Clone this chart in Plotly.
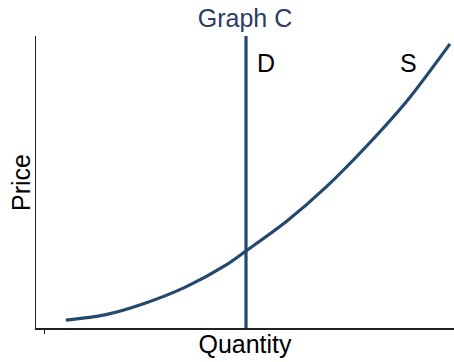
import plotly.graph_objects as go

# supply curve S
supply_q = [0.54, 1.5, 2.5, 3.5, 4.5, 5.0, 6.0, 7.0, 8.0, 9.0, 10.05]
supply_p = [0.27, 0.45, 0.85, 1.40, 2.15, 2.64, 3.65, 4.85, 6.25, 7.80, 9.73]

# vertical demand curve D
demand_q = [5.0, 5.0]
demand_p = [0.0, 10.0]

LINE_COLOR = "#23496f"
FONT = "Liberation Sans, Arial, sans-serif"

fig = go.Figure()
fig.add_trace(go.Scatter(x=demand_q, y=demand_p, mode="lines",
                         line=dict(color=LINE_COLOR, width=3.2), showlegend=False))
fig.add_trace(go.Scatter(x=supply_q, y=supply_p, mode="lines", line_shape="spline",
                         line=dict(color=LINE_COLOR, width=3.2, smoothing=0.8),
                         showlegend=False))

fig.add_annotation(x=5.5, y=9.08, text="D", showarrow=False, xref="x", yref="y",
                   font=dict(size=25, color="black", family=FONT))
fig.add_annotation(x=9.03, y=9.08, text="S", showarrow=False, xref="x", yref="y",
                   font=dict(size=25, color="black", family=FONT))
# y axis title
fig.add_annotation(x=-0.036, y=0.5, xref="paper", yref="paper", text="Price",
                   textangle=-90, showarrow=False, xanchor="center", yanchor="middle",
                   font=dict(size=25, color="black", family=FONT))

fig.update_layout(
    width=454, height=362,
    margin=dict(l=36, r=0, t=36, b=34),
    plot_bgcolor="white", paper_bgcolor="white",
    font=dict(family=FONT, size=26, color="black"),
    title=dict(text="Graph C", x=0.5, xref="paper", xanchor="center",
               y=0.95, yref="container", yanchor="middle",
               font=dict(size=25, color="#2b3c66", family=FONT)),
    xaxis=dict(range=[-0.2, 10.15], showgrid=False, zeroline=False, automargin=False,
               showline=True, linecolor="#222222", linewidth=2,
               tickmode="array", tickvals=[0], ticks="outside", ticklen=4,
               tickcolor="#222222", showticklabels=False,
               title=dict(text="Quantity", standoff=2, font=dict(size=25))),
    yaxis=dict(range=[0, 10], showgrid=False, zeroline=False, automargin=False,
               showline=True, linecolor="#222222", linewidth=1,
               ticks="", showticklabels=False),
)

fig.write_html("out.html", config={"displayModeBar": False},
               post_script="document.body.style.margin='0';")
